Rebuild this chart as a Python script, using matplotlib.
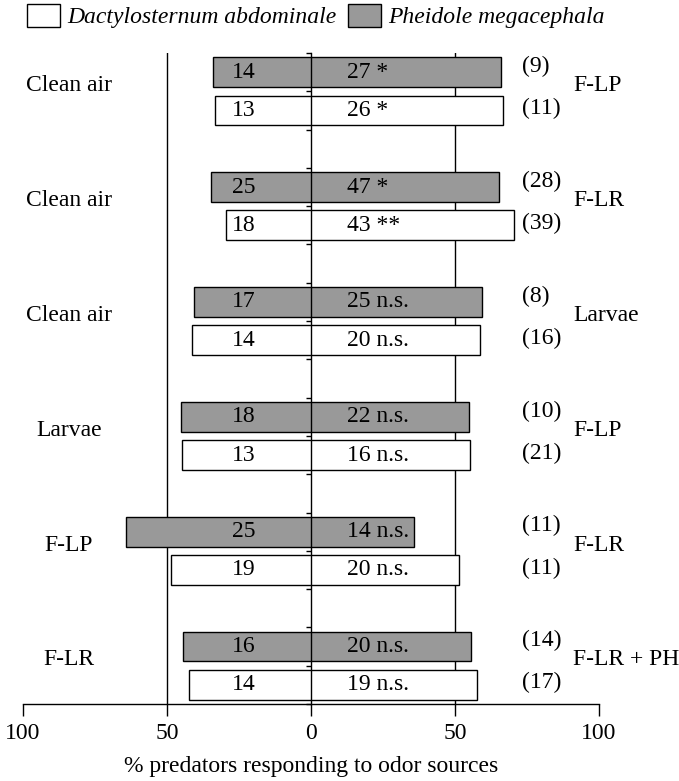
import numpy as np
import matplotlib
matplotlib.use('Agg')
import matplotlib.pyplot as plt
from matplotlib.patches import Patch

plt.rcParams['font.family'] = ['Liberation Serif', 'DejaVu Serif']
plt.rcParams['font.size'] = 17

# odor sources (left = first source, right = second source)
left_odor = ['Clean air', 'Clean air', 'Clean air', 'Larvae', 'F-LP', 'F-LR']
right_odor = ['F-LP', 'F-LR', 'Larvae', 'F-LP', 'F-LR', 'F-LR + PH']

# Pheidole megacephala counts
pm_left = [14, 25, 17, 18, 25, 16]
pm_right = [27, 47, 25, 22, 14, 20]
pm_sig = ['*', '*', 'n.s.', 'n.s.', 'n.s.', 'n.s.']
pm_none = [9, 28, 8, 10, 11, 14]

# Dactylosternum abdominale counts
da_left = [13, 18, 14, 13, 19, 14]
da_right = [26, 43, 20, 16, 20, 19]
da_sig = ['*', '**', 'n.s.', 'n.s.', 'n.s.', 'n.s.']
da_none = [11, 39, 16, 21, 11, 17]

gray = '#999999'

fig = plt.figure(figsize=(6.79, 7.81), dpi=100)
ax = fig.add_axes([23 / 679, 1 - 704 / 781, 576 / 679, 651 / 781])

n = len(left_odor)
for i in range(n):
    base = 3 * i
    for k, (l, r, sig, none, fc) in enumerate([
            (pm_left[i], pm_right[i], pm_sig[i], pm_none[i], gray),
            (da_left[i], da_right[i], da_sig[i], da_none[i], 'white')]):
        tot = l + r
        lp = 100.0 * l / tot
        rp = 100.0 * r / tot
        yc = base + 0.5 + k
        ax.barh(yc, lp + rp, left=-lp, height=0.78, color=fc,
                edgecolor='black', linewidth=1.0, zorder=1)
        ax.text(-23.5, yc, str(l), ha='center', va='center', zorder=4)
        ax.text(12.5, yc, '%d %s' % (r, sig), ha='left', va='center', zorder=4)
        ax.text(73.3, yc - (0.15 if k == 0 else 0.05), '(%d)' % none,
                ha='left', va='center')
    ax.text(-84, base + 0.85, left_odor[i], ha='center', va='center')
    ax.text(91, base + 0.85, right_odor[i], ha='left', va='center')

# guide lines at +-50 behind bars
for xv in (-50, 50):
    ax.axvline(xv, color='black', linewidth=1.0, zorder=0.5)

ax.set_xlim(-100, 100)
ax.set_ylim(17, 0)

# left spine acts as the 0 line
ax.spines['left'].set_position(('data', 0))
ax.spines['left'].set_zorder(3)
ax.spines['right'].set_visible(False)
ax.spines['top'].set_visible(False)
ax.spines['bottom'].set_bounds(-100, 100)
for s in ('left', 'bottom'):
    ax.spines[s].set_linewidth(1.0)

ax.set_yticks(np.arange(0, 18))
ax.set_yticklabels([])
ax.tick_params(axis='y', direction='out', length=3.5, width=1.0)

ax.set_xticks([-100, -50, 0, 50, 100])
ax.set_xticklabels(['100', '50', '0', '50', '100'])
ax.tick_params(axis='x', direction='out', length=8.6, width=1.0, pad=5)
ax.set_xlabel('% predators responding to odor sources', labelpad=9)
ax.patch.set_visible(False)

handles = [Patch(facecolor='white', edgecolor='black', linewidth=1.0),
           Patch(facecolor=gray, edgecolor='black', linewidth=1.0)]
fig.legend(handles, ['Dactylosternum abdominale', 'Pheidole megacephala'],
           loc='upper left', bbox_to_anchor=(27 / 679, 1 - 4 / 781),
           ncol=2, frameon=False, prop={'style': 'italic', 'size': 17},
           handlelength=1.4, handleheight=1.1, handletextpad=0.3,
           columnspacing=0.5, borderaxespad=0, borderpad=0)

fig.savefig('out.png', dpi=100)
